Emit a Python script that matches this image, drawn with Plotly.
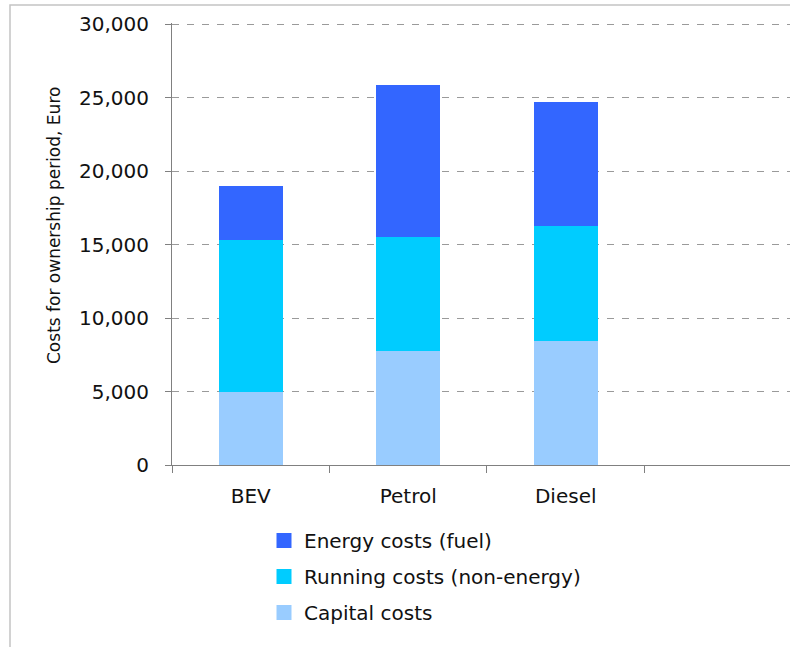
import plotly.graph_objects as go

# Vehicle types and cost components (Euro, over the ownership period)
vehicles = ["BEV", "Petrol", "Diesel"]
capital_costs = [4950, 7750, 8430]
running_costs = [10350, 7750, 7820]
energy_costs = [3700, 10350, 8450]

y_ticks = [0, 5000, 10000, 15000, 20000, 25000, 30000]

FONT = "DejaVu Sans"
W, H = 790, 647
L, R, T, B = 172, 0, 23, 182
plot_w = W - L - R
plot_h = H - T - B
Y_MAX = 30070


def px_x(p):
    return (p - L) / plot_w


def px_y(p):
    return (H - B - p) / plot_h


fig = go.Figure()

series = [
    ("Capital costs", capital_costs, "#99CCFF", 3),
    ("Running costs (non-energy)", running_costs, "#00CCFF", 2),
    ("Energy costs (fuel)", energy_costs, "#3366FF", 1),
]
for name, vals, color, rank in series:
    fig.add_trace(go.Bar(
        x=vehicles, y=vals, name=name, legendgroup=name, showlegend=False,
        marker=dict(color=color, line=dict(width=0)),
    ))
    # legend key with a larger square swatch
    fig.add_trace(go.Scatter(
        x=[None], y=[None], mode="markers", name=name, legendgroup=name,
        legendrank=rank, showlegend=True, hoverinfo="skip",
        marker=dict(symbol="square", size=15, color=color, line=dict(width=0)),
    ))

fig.update_layout(
    width=W, height=H,
    margin=dict(l=L, r=R, t=T, b=B),
    paper_bgcolor="white", plot_bgcolor="white",
    barmode="stack", bargap=0.594,
    font=dict(family=FONT, size=20, color="#111111"),
    showlegend=True,
    legend=dict(
        traceorder="grouped", tracegroupgap=7,
        x=px_x(264), y=px_y(521), xanchor="left", yanchor="top",
        font=dict(family=FONT, size=20, color="#111111"),
        bgcolor="rgba(0,0,0,0)", itemwidth=30,
    ),
    xaxis=dict(
        type="category", range=[-0.5, 3.424],
        tickson="boundaries", ticks="outside", ticklen=7,
        tickcolor="#808080", tickwidth=1,
        showline=True, linecolor="#808080", linewidth=1,
        showgrid=False, zeroline=False,
        tickfont=dict(family=FONT, size=20, color="#111111"),
        ticklabelstandoff=13,
    ),
    yaxis=dict(
        range=[0, Y_MAX], tickvals=y_ticks, tickformat=",",
        ticks="outside", ticklen=6, tickcolor="#808080", tickwidth=1,
        showline=True, linecolor="#808080", linewidth=1,
        showgrid=True, gridcolor="#9a9a9a", gridwidth=1, griddash="7px,8px",
        zeroline=False,
        tickfont=dict(family=FONT, size=20, color="#111111"),
        ticklabelstandoff=12,
    ),
)

# Rotated axis title
fig.add_annotation(
    text="Costs for ownership period, Euro", textangle=-90,
    xref="paper", yref="paper", x=px_x(54), y=px_y(226),
    xanchor="center", yanchor="middle", showarrow=False,
    font=dict(family=FONT, size=17, color="#111111"),
)

# Light frame around the chart area
fig.add_shape(
    type="rect", xref="paper", yref="paper",
    x0=px_x(10), x1=px_x(900), y0=px_y(800), y1=px_y(5),
    line=dict(color="#c4c4c4", width=1.5), fillcolor="rgba(0,0,0,0)",
    layer="below",
)

fig.write_html("out.html")
